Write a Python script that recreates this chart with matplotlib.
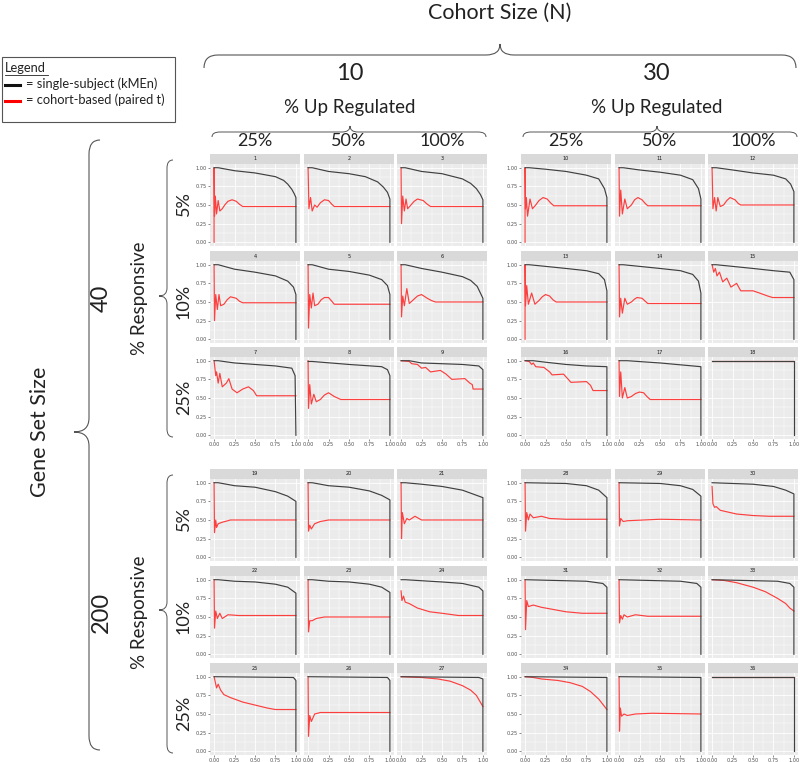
import matplotlib
matplotlib.use('Agg')
import matplotlib.pyplot as plt
from matplotlib.path import Path
import matplotlib.patches as patches
from matplotlib.lines import Line2D

plt.rcParams['font.family'] = ['Lato', 'DejaVu Sans']

W, H = 800, 762

# ---- data: curves (x = recall, y = precision) ----
p01_blk = [(0, 1.0), (0.05, 1.0), (0.25, 0.96), (0.5, 0.93), (0.75, 0.88), (0.85, 0.83), (0.9, 0.78), (0.95, 0.71), (0.98, 0.65), (1.0, 0.6), (1.0, 0.0)]
p01_red = [(0, 0.0), (0, 1.0), (0.005, 0.35), (0.015, 0.62), (0.03, 0.38), (0.05, 0.56), (0.07, 0.42), (0.1, 0.45), (0.13, 0.5), (0.17, 0.55), (0.22, 0.57), (0.27, 0.55), (0.31, 0.51), (0.35, 0.48), (1.0, 0.48)]
p02_blk = [(0, 1.0), (0.05, 1.0), (0.25, 0.95), (0.5, 0.92), (0.7, 0.88), (0.85, 0.81), (0.92, 0.74), (0.97, 0.67), (1.0, 0.58), (1.0, 0.0)]
p02_red = [(0, 1.0), (0.01, 0.45), (0.03, 0.6), (0.05, 0.42), (0.08, 0.5), (0.11, 0.47), (0.15, 0.53), (0.2, 0.57), (0.25, 0.56), (0.29, 0.51), (0.32, 0.48), (1.0, 0.48)]
p03_blk = [(0, 1.0), (0.05, 1.0), (0.25, 0.95), (0.5, 0.92), (0.75, 0.85), (0.85, 0.79), (0.92, 0.72), (0.97, 0.64), (1.0, 0.57), (1.0, 0.0)]
p03_red = [(0, 1.0), (0.005, 0.25), (0.02, 0.62), (0.04, 0.42), (0.06, 0.58), (0.08, 0.45), (0.12, 0.5), (0.16, 0.55), (0.2, 0.58), (0.27, 0.56), (0.32, 0.51), (0.36, 0.48), (1.0, 0.48)]
p04_blk = [(0, 1.0), (0.05, 1.0), (0.25, 0.94), (0.5, 0.9), (0.75, 0.85), (0.9, 0.78), (0.97, 0.7), (1.0, 0.6), (1.0, 0.0)]
p04_red = [(0, 1.0), (0.005, 0.25), (0.02, 0.6), (0.04, 0.4), (0.06, 0.6), (0.08, 0.45), (0.12, 0.47), (0.16, 0.53), (0.2, 0.57), (0.27, 0.55), (0.31, 0.51), (0.35, 0.49), (1.0, 0.49)]
p05_blk = [(0, 1.0), (0.05, 1.0), (0.25, 0.94), (0.5, 0.91), (0.75, 0.86), (0.9, 0.8), (0.97, 0.72), (1.0, 0.6), (1.0, 0.0)]
p05_red = [(0, 1.0), (0.005, 0.15), (0.02, 0.6), (0.04, 0.42), (0.06, 0.62), (0.08, 0.45), (0.12, 0.47), (0.16, 0.53), (0.2, 0.56), (0.25, 0.56), (0.29, 0.51), (0.32, 0.47), (1.0, 0.47)]
p06_blk = [(0, 1.0), (0.05, 1.0), (0.25, 0.95), (0.5, 0.9), (0.75, 0.84), (0.85, 0.79), (0.93, 0.71), (1.0, 0.55), (1.0, 0.0)]
p06_red = [(0, 1.0), (0.005, 0.3), (0.02, 0.58), (0.04, 0.45), (0.07, 0.68), (0.1, 0.48), (0.15, 0.53), (0.2, 0.58), (0.25, 0.6), (0.32, 0.55), (0.37, 0.52), (0.42, 0.5), (1.0, 0.5)]
p07_blk = [(0, 1.0), (0.05, 1.0), (0.25, 0.97), (0.5, 0.95), (0.75, 0.93), (0.95, 0.9), (0.99, 0.8), (1.0, 0.0)]
p07_red = [(0, 1.0), (0.02, 0.8), (0.03, 0.85), (0.05, 0.7), (0.07, 0.83), (0.1, 0.65), (0.15, 0.7), (0.18, 0.76), (0.22, 0.62), (0.28, 0.57), (0.35, 0.62), (0.42, 0.65), (0.48, 0.6), (0.52, 0.53), (1.0, 0.53)]
p08_blk = [(0, 0.99), (0.05, 0.99), (0.5, 0.95), (0.9, 0.92), (0.97, 0.88), (1.0, 0.8), (1.0, 0.0)]
p08_red = [(0, 1.0), (0.005, 0.36), (0.02, 0.68), (0.04, 0.42), (0.07, 0.55), (0.1, 0.45), (0.15, 0.48), (0.2, 0.54), (0.25, 0.57), (0.32, 0.52), (0.4, 0.48), (1.0, 0.48)]
p09_blk = [(0, 1.0), (0.1, 1.0), (0.25, 0.97), (0.5, 0.96), (0.75, 0.95), (0.95, 0.93), (1.0, 0.88), (1.0, 0.0)]
p09_red = [(0, 1.0), (0.1, 0.99), (0.13, 0.96), (0.2, 0.95), (0.25, 0.9), (0.3, 0.91), (0.36, 0.85), (0.48, 0.87), (0.55, 0.82), (0.62, 0.75), (0.78, 0.76), (0.84, 0.7), (0.87, 0.68), (0.88, 0.62), (1.0, 0.62)]
p10_blk = [(0, 1.0), (0.05, 1.0), (0.25, 0.98), (0.5, 0.95), (0.75, 0.9), (0.9, 0.85), (0.97, 0.72), (1.0, 0.6), (1.0, 0.0)]
p10_red = [(0, 0.0), (0, 1.0), (0.005, 0.45), (0.015, 0.6), (0.03, 0.35), (0.06, 0.58), (0.09, 0.45), (0.13, 0.5), (0.17, 0.56), (0.22, 0.6), (0.27, 0.58), (0.31, 0.53), (0.35, 0.49), (1.0, 0.49)]
p11_blk = [(0, 1.0), (0.05, 1.0), (0.25, 0.97), (0.5, 0.94), (0.75, 0.9), (0.9, 0.84), (0.97, 0.72), (1.0, 0.58), (1.0, 0.0)]
p11_red = [(0, 1.0), (0.005, 0.35), (0.02, 0.7), (0.04, 0.38), (0.07, 0.58), (0.1, 0.45), (0.15, 0.5), (0.19, 0.57), (0.23, 0.6), (0.28, 0.57), (0.32, 0.52), (0.35, 0.49), (1.0, 0.49)]
p12_blk = [(0, 1.0), (0.05, 1.0), (0.25, 0.97), (0.5, 0.93), (0.75, 0.9), (0.9, 0.85), (0.96, 0.78), (1.0, 0.68), (1.0, 0.0)]
p12_red = [(0, 1.0), (0.01, 0.45), (0.03, 0.6), (0.05, 0.42), (0.07, 0.6), (0.1, 0.48), (0.14, 0.5), (0.18, 0.56), (0.22, 0.6), (0.28, 0.57), (0.32, 0.52), (0.35, 0.5), (1.0, 0.5)]
p13_blk = [(0, 1.0), (0.05, 1.0), (0.5, 0.95), (0.75, 0.92), (0.9, 0.88), (0.97, 0.8), (1.0, 0.65), (1.0, 0.0)]
p13_red = [(0, 0.0), (0, 1.0), (0.005, 0.45), (0.02, 0.72), (0.04, 0.47), (0.08, 0.62), (0.12, 0.47), (0.17, 0.52), (0.21, 0.57), (0.25, 0.6), (0.3, 0.58), (0.34, 0.53), (0.38, 0.5), (1.0, 0.5)]
p14_blk = [(0, 1.0), (0.05, 1.0), (0.5, 0.95), (0.75, 0.92), (0.9, 0.87), (0.97, 0.78), (1.0, 0.62), (1.0, 0.0)]
p14_red = [(0, 1.0), (0.005, 0.3), (0.02, 0.55), (0.04, 0.35), (0.07, 0.55), (0.1, 0.47), (0.15, 0.5), (0.19, 0.54), (0.22, 0.56), (0.28, 0.55), (0.32, 0.51), (0.35, 0.48), (1.0, 0.48)]
p15_blk = [(0, 1.0), (0.05, 1.0), (0.5, 0.95), (0.75, 0.92), (0.95, 0.9), (1.0, 0.8), (1.0, 0.0)]
p15_red = [(0, 1.0), (0.02, 0.9), (0.04, 0.95), (0.06, 0.85), (0.09, 0.9), (0.13, 0.77), (0.18, 0.82), (0.23, 0.7), (0.3, 0.75), (0.35, 0.65), (0.5, 0.65), (0.58, 0.62), (0.68, 0.58), (0.74, 0.56), (1.0, 0.56)]
p16_blk = [(0, 1.0), (0.1, 1.0), (0.25, 0.98), (0.5, 0.95), (0.75, 0.93), (1.0, 0.92), (1.0, 0.0)]
p16_red = [(0, 1.0), (0.05, 0.99), (0.08, 0.95), (0.1, 0.97), (0.13, 0.92), (0.23, 0.91), (0.3, 0.85), (0.33, 0.81), (0.47, 0.82), (0.52, 0.76), (0.56, 0.71), (0.75, 0.72), (0.8, 0.67), (0.83, 0.6), (1.0, 0.6)]
p17_blk = [(0, 1.0), (0.1, 1.0), (0.5, 0.97), (1.0, 0.92), (1.0, 0.0)]
p17_red = [(0, 1.0), (0.005, 0.52), (0.02, 0.85), (0.04, 0.5), (0.07, 0.64), (0.1, 0.5), (0.15, 0.52), (0.2, 0.56), (0.25, 0.58), (0.3, 0.57), (0.34, 0.52), (0.38, 0.48), (1.0, 0.48)]
p18_blk = [(0, 1.0), (1.0, 1.0), (1.0, 0.0)]
p18_red = [(0, 1.0), (1.0, 1.0)]
p19_blk = [(0, 1.0), (0.05, 1.0), (0.25, 0.96), (0.5, 0.94), (0.75, 0.88), (0.9, 0.82), (1.0, 0.75), (1.0, 0.0)]
p19_red = [(0, 1.0), (0.005, 0.33), (0.02, 0.5), (0.03, 0.4), (0.05, 0.45), (0.1, 0.47), (0.2, 0.5), (0.3, 0.5), (1.0, 0.5)]
p20_blk = [(0, 1.0), (0.05, 1.0), (0.25, 0.96), (0.5, 0.94), (0.75, 0.89), (0.9, 0.83), (1.0, 0.77), (1.0, 0.0)]
p20_red = [(0, 1.0), (0.005, 0.35), (0.02, 0.43), (0.04, 0.38), (0.08, 0.45), (0.15, 0.48), (0.25, 0.5), (1.0, 0.5)]
p21_blk = [(0, 1.0), (0.05, 1.0), (0.25, 0.98), (0.5, 0.95), (0.75, 0.9), (1.0, 0.8), (1.0, 0.0)]
p21_red = [(0, 1.0), (0.005, 0.25), (0.015, 0.6), (0.04, 0.45), (0.07, 0.52), (0.1, 0.5), (0.17, 0.55), (0.25, 0.5), (1.0, 0.5)]
p22_blk = [(0, 1.0), (0.05, 1.0), (0.25, 0.98), (0.5, 0.97), (0.75, 0.94), (0.9, 0.9), (1.0, 0.82), (1.0, 0.0)]
p22_red = [(0, 1.0), (0.005, 0.35), (0.02, 0.58), (0.04, 0.48), (0.07, 0.55), (0.1, 0.48), (0.17, 0.53), (0.3, 0.52), (1.0, 0.52)]
p23_blk = [(0, 1.0), (0.05, 1.0), (0.25, 0.98), (0.5, 0.97), (0.75, 0.94), (0.9, 0.9), (1.0, 0.83), (1.0, 0.0)]
p23_red = [(0, 1.0), (0.005, 0.3), (0.02, 0.45), (0.05, 0.45), (0.1, 0.48), (0.2, 0.5), (1.0, 0.5)]
p24_blk = [(0, 1.0), (0.05, 1.0), (0.5, 0.97), (0.75, 0.95), (0.95, 0.9), (1.0, 0.85), (1.0, 0.0)]
p24_red = [(0, 0.85), (0.01, 0.72), (0.03, 0.78), (0.05, 0.7), (0.1, 0.68), (0.2, 0.62), (0.35, 0.57), (0.5, 0.55), (0.7, 0.52), (1.0, 0.52)]
p25_blk = [(0, 1.0), (0.97, 0.99), (1.0, 0.95), (1.0, 0.0)]
p25_red = [(0, 1.0), (0.02, 0.9), (0.03, 0.85), (0.05, 0.9), (0.08, 0.82), (0.12, 0.76), (0.2, 0.72), (0.35, 0.66), (0.5, 0.62), (0.65, 0.58), (0.75, 0.56), (1.0, 0.56)]
p26_blk = [(0, 1.0), (0.97, 0.99), (1.0, 0.95), (1.0, 0.0)]
p26_red = [(0, 1.0), (0.005, 0.2), (0.02, 0.48), (0.04, 0.4), (0.08, 0.5), (0.15, 0.52), (0.3, 0.52), (1.0, 0.52)]
p27_blk = [(0, 1.0), (0.95, 0.99), (1.0, 0.97), (1.0, 0.0)]
p27_red = [(0, 1.0), (0.25, 0.99), (0.45, 0.97), (0.6, 0.94), (0.75, 0.88), (0.85, 0.82), (0.92, 0.75), (1.0, 0.6)]
p28_blk = [(0, 1.0), (0.5, 0.99), (0.75, 0.96), (0.9, 0.9), (1.0, 0.8), (1.0, 0.0)]
p28_red = [(0, 1.0), (0.005, 0.35), (0.02, 0.6), (0.04, 0.5), (0.06, 0.58), (0.1, 0.53), (0.2, 0.55), (0.3, 0.52), (0.5, 0.51), (1.0, 0.51)]
p29_blk = [(0, 1.0), (0.5, 0.99), (0.75, 0.96), (0.9, 0.91), (1.0, 0.82), (1.0, 0.0)]
p29_red = [(0, 1.0), (0.005, 0.42), (0.02, 0.52), (0.05, 0.48), (0.1, 0.49), (0.3, 0.5), (0.5, 0.51), (1.0, 0.5)]
p30_blk = [(0, 1.0), (0.5, 0.98), (0.75, 0.95), (0.9, 0.9), (1.0, 0.85), (1.0, 0.0)]
p30_red = [(0, 0.95), (0.01, 0.72), (0.03, 0.67), (0.05, 0.68), (0.1, 0.63), (0.3, 0.58), (0.5, 0.56), (0.7, 0.55), (1.0, 0.55)]
p31_blk = [(0, 1.0), (0.75, 0.98), (0.95, 0.95), (1.0, 0.9), (1.0, 0.0)]
p31_red = [(0, 1.0), (0.005, 0.33), (0.02, 0.72), (0.04, 0.64), (0.1, 0.66), (0.2, 0.63), (0.35, 0.6), (0.5, 0.57), (0.7, 0.55), (1.0, 0.55)]
p32_blk = [(0, 1.0), (0.75, 0.98), (0.95, 0.95), (1.0, 0.9), (1.0, 0.0)]
p32_red = [(0, 1.0), (0.005, 0.42), (0.02, 0.52), (0.04, 0.47), (0.06, 0.53), (0.1, 0.5), (0.2, 0.53), (0.35, 0.51), (1.0, 0.51)]
p33_blk = [(0, 1.0), (0.8, 0.98), (0.95, 0.95), (1.0, 0.9), (1.0, 0.0)]
p33_red = [(0, 1.0), (0.15, 0.99), (0.3, 0.96), (0.5, 0.9), (0.65, 0.84), (0.8, 0.75), (0.9, 0.68), (0.95, 0.62), (1.0, 0.58)]
p34_blk = [(0, 1.0), (1.0, 0.99), (1.0, 0.0)]
p34_red = [(0, 1.0), (0.1, 0.99), (0.2, 0.97), (0.4, 0.95), (0.55, 0.92), (0.7, 0.87), (0.8, 0.8), (0.9, 0.7), (1.0, 0.56)]
p35_blk = [(0, 1.0), (1.0, 0.99), (1.0, 0.0)]
p35_red = [(0, 1.0), (0.005, 0.27), (0.015, 0.58), (0.03, 0.47), (0.06, 0.5), (0.1, 0.48), (0.2, 0.5), (0.4, 0.51), (1.0, 0.5)]
p36_blk = [(0, 1.0), (1.0, 1.0), (1.0, 0.0)]
p36_red = [(0, 1.0), (1.0, 1.0)]

black_curves = [p01_blk, p02_blk, p03_blk, p04_blk, p05_blk, p06_blk, p07_blk, p08_blk, p09_blk,
                p10_blk, p11_blk, p12_blk, p13_blk, p14_blk, p15_blk, p16_blk, p17_blk, p18_blk,
                p19_blk, p20_blk, p21_blk, p22_blk, p23_blk, p24_blk, p25_blk, p26_blk, p27_blk,
                p28_blk, p29_blk, p30_blk, p31_blk, p32_blk, p33_blk, p34_blk, p35_blk, p36_blk]
red_curves = [p01_red, p02_red, p03_red, p04_red, p05_red, p06_red, p07_red, p08_red, p09_red,
              p10_red, p11_red, p12_red, p13_red, p14_red, p15_red, p16_red, p17_red, p18_red,
              p19_red, p20_red, p21_red, p22_red, p23_red, p24_red, p25_red, p26_red, p27_red,
              p28_red, p29_red, p30_red, p31_red, p32_red, p33_red, p34_red, p35_red, p36_red]

cohort_sizes = ['10', '30']
gene_set_sizes = ['40', '200']
up_regulated = ['25%', '50%', '100%']
responsive = ['5%', '10%', '25%']
ticks = [0.0, 0.25, 0.5, 0.75, 1.0]
tick_labels = ['0.00', '0.25', '0.50', '0.75', '1.00']

# ---- layout (pixels) ----
col_x = [[210, 304, 397], [521, 615, 708]]
row_y = [[154, 251, 347], [469, 566, 663]]
PW, SH, PH = 90, 10, 82


def fbox(x, y, w, h):
    return [x / W, 1 - (y + h) / H, w / W, h / H]


def fx(x):
    return x / W


def fy(y):
    return 1 - y / H


fig = plt.figure(figsize=(8, 7.62), dpi=100)

for gi in range(2):          # gene set size (rows of groups)
    for ci in range(2):      # cohort size (cols of groups)
        for r in range(3):
            for c in range(3):
                idx = gi * 18 + ci * 9 + r * 3 + c
                x0 = col_x[ci][c]
                y0 = row_y[gi][r]
                # strip
                sax = fig.add_axes(fbox(x0, y0, PW, SH))
                sax.set_facecolor('#D9D9D9')
                sax.set_xticks([]); sax.set_yticks([])
                for s in sax.spines.values():
                    s.set_visible(False)
                sax.text(0.5, 0.5, str(idx + 1), ha='center', va='center',
                         fontsize=3.6, color='#1A1A1A', family='DejaVu Sans',
                         transform=sax.transAxes)
                # panel
                ax = fig.add_axes(fbox(x0, y0 + SH, PW, PH))
                ax.set_facecolor('#EBEBEB')
                ax.set_xlim(-0.05, 1.05)
                ax.set_ylim(-0.05, 1.05)
                ax.set_xticks(ticks)
                ax.set_yticks(ticks)
                ax.set_xticks([0.125, 0.375, 0.625, 0.875], minor=True)
                ax.set_yticks([0.125, 0.375, 0.625, 0.875], minor=True)
                ax.grid(True, which='major', color='white', lw=0.6)
                ax.grid(True, which='minor', color='white', lw=0.3)
                ax.set_axisbelow(True)
                for s in ax.spines.values():
                    s.set_visible(False)
                ax.tick_params(which='minor', length=0)
                ax.tick_params(which='major', length=1.5, width=0.4, color='#333333',
                               labelsize=3.6, labelcolor='#4D4D4D', pad=1)
                if c == 0:
                    ax.set_yticklabels(tick_labels, family='DejaVu Sans')
                else:
                    ax.tick_params(axis='y', length=0, labelleft=False)
                if r == 2:
                    ax.set_xticklabels(tick_labels, family='DejaVu Sans')
                else:
                    ax.tick_params(axis='x', length=0, labelbottom=False)
                rx = [p[0] for p in red_curves[idx]]
                ry = [p[1] for p in red_curves[idx]]
                bx = [p[0] for p in black_curves[idx]]
                by = [p[1] for p in black_curves[idx]]
                ax.plot(rx, ry, color='#FF2020', lw=0.85, alpha=0.85, zorder=3,
                        solid_joinstyle='round')
                ax.plot(bx, by, color='#404040', lw=0.85, zorder=4, solid_joinstyle='round')


# ---- braces ----
def hbrace(x0, x1, xm, y_end, y_line, y_tip, r=12, lw=0.8):
    pts = [(x0, y_end), (x0, y_line), (x0 + r, y_line),
           (xm - r, y_line),
           (xm, y_line), (xm, y_tip),
           (xm, y_line), (xm + r, y_line),
           (x1 - r, y_line),
           (x1, y_line), (x1, y_end)]
    codes = [Path.MOVETO, Path.CURVE3, Path.CURVE3, Path.LINETO,
             Path.CURVE3, Path.CURVE3, Path.CURVE3, Path.CURVE3,
             Path.LINETO, Path.CURVE3, Path.CURVE3]
    pts = [(fx(a), fy(b)) for a, b in pts]
    fig.patches.append(patches.PathPatch(Path(pts, codes), transform=fig.transFigure,
                                         fill=False, ec='#555555', lw=lw))


def vbrace(y0, y1, ym, x_end, x_line, x_tip, r=12, lw=0.8):
    pts = [(x_end, y0), (x_line, y0), (x_line, y0 + r),
           (x_line, ym - r),
           (x_line, ym), (x_tip, ym),
           (x_line, ym), (x_line, ym + r),
           (x_line, y1 - r),
           (x_line, y1), (x_end, y1)]
    codes = [Path.MOVETO, Path.CURVE3, Path.CURVE3, Path.LINETO,
             Path.CURVE3, Path.CURVE3, Path.CURVE3, Path.CURVE3,
             Path.LINETO, Path.CURVE3, Path.CURVE3]
    pts = [(fx(a), fy(b)) for a, b in pts]
    fig.patches.append(patches.PathPatch(Path(pts, codes), transform=fig.transFigure,
                                         fill=False, ec='#555555', lw=lw))


# top annotations
fig.text(fx(500), fy(13), 'Cohort Size (N)', ha='center', va='center', fontsize=15.5, color='#222222')
hbrace(204, 796, 500, 68, 55, 44, r=14)
cohort_cx = [350, 657]
for i, n in enumerate(cohort_sizes):
    fig.text(fx(cohort_cx[i]), fy(74), n, ha='center', va='center', fontsize=17, color='#222222')
    fig.text(fx(cohort_cx[i]), fy(107), '% Up Regulated', ha='center', va='center', fontsize=13.5, color='#222222')
    x_lo = col_x[i][0] + 2
    x_hi = col_x[i][2] + PW - 1
    hbrace(x_lo, x_hi, cohort_cx[i], 137, 132, 126, r=8, lw=0.7)
    for c, lab in enumerate(up_regulated):
        fig.text(fx(col_x[i][c] + PW / 2), fy(141), lab, ha='center', va='center',
                 fontsize=13, color='#222222')

# left annotations
fig.text(fx(40), fy(432), 'Gene Set Size', rotation=90, ha='center', va='center',
         fontsize=15.5, color='#222222')
vbrace(140, 750, 432, 100, 89, 74, r=14)
gene_cy = [298, 612]
for i, g in enumerate(gene_set_sizes):
    fig.text(fx(101), fy(gene_cy[i]), g, rotation=90, ha='center', va='center',
             fontsize=17, color='#222222')
    fig.text(fx(139), fy(gene_cy[i]), '% Responsive', rotation=90, ha='center', va='center',
             fontsize=13.5, color='#222222')
    y_lo = row_y[i][0] + 6
    y_hi = row_y[i][2] + SH + PH - 2
    vbrace(y_lo, y_hi, gene_cy[i] - 2, 173, 167, 159, r=8, lw=0.7)
    for r, lab in enumerate(responsive):
        fig.text(fx(184), fy(row_y[i][r] + (SH + PH) / 2 + 4), lab, rotation=90,
                 ha='center', va='center', fontsize=13, color='#222222')

# legend box
fig.patches.append(patches.Rectangle((fx(2), fy(122)), fx(173), 65 / H, transform=fig.transFigure,
                                     fill=False, ec='#555555', lw=0.8))
fig.text(fx(5), fy(68), 'Legend', ha='left', va='center', fontsize=9.3, color='#222222')
fig.add_artist(Line2D([fx(5), fx(48)], [fy(75), fy(75)], color='#222222', lw=0.6))
fig.add_artist(Line2D([fx(5), fx(20)], [fy(85), fy(85)], color='#111111', lw=2.2))
fig.text(fx(26), fy(84), '= single-subject (kMEn)', ha='left', va='center', fontsize=9.3, color='#222222')
fig.add_artist(Line2D([fx(5), fx(20)], [fy(101), fy(101)], color='#FF0000', lw=2.2))
fig.text(fx(26), fy(100), '= cohort-based (paired t)', ha='left', va='center', fontsize=9.3, color='#222222')

fig.savefig('out.png', dpi=100)
